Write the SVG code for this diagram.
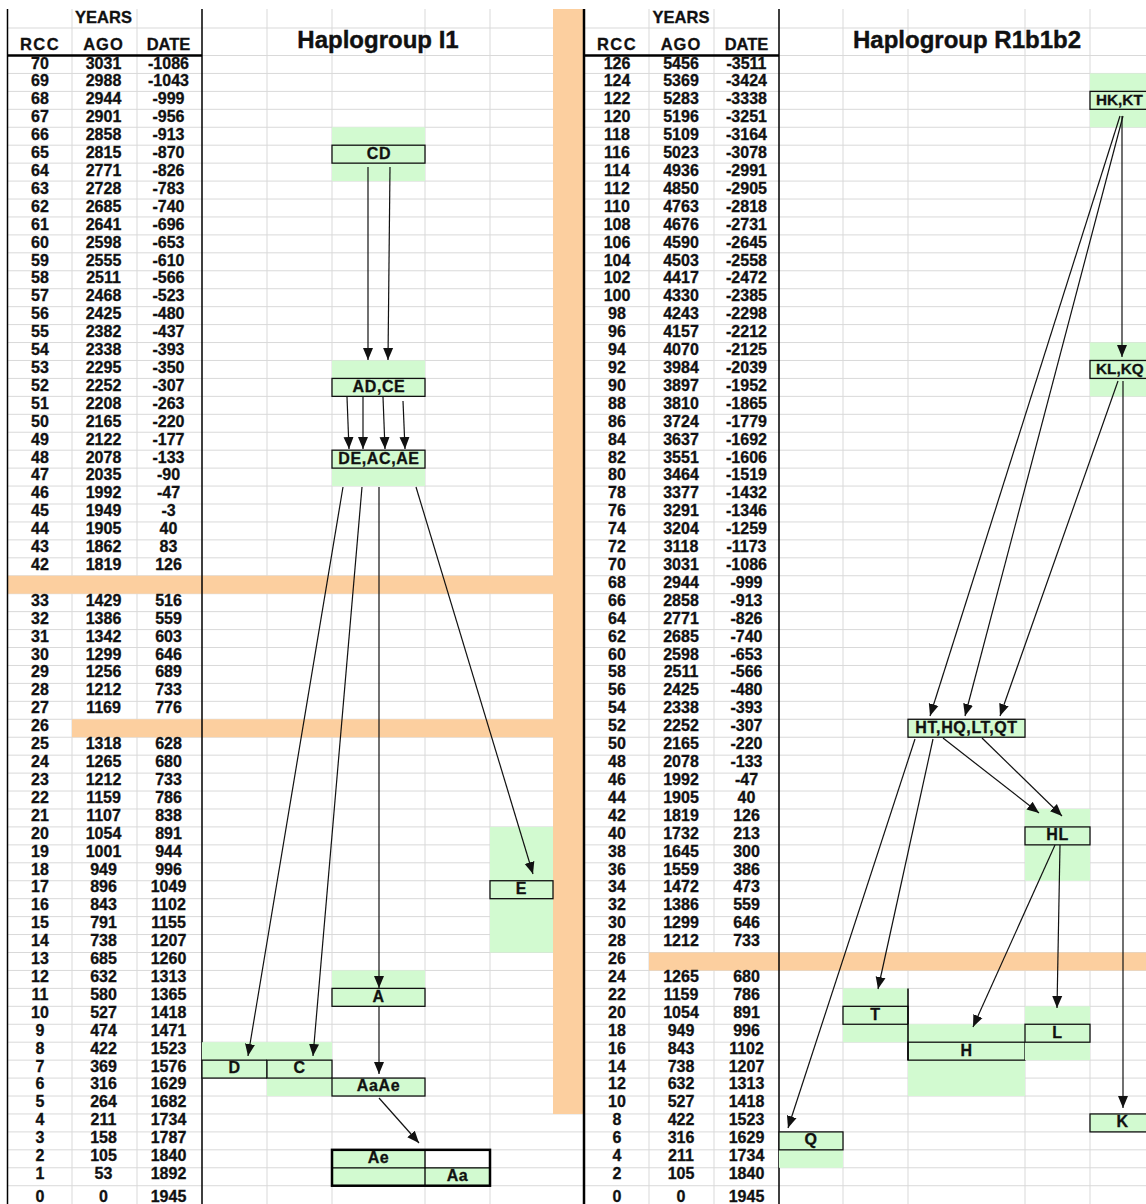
<svg xmlns="http://www.w3.org/2000/svg" width="1146" height="1204" viewBox="0 0 1146 1204">
<style>
.grid{stroke:#d9d9d9;stroke-width:1;fill:none}
.or{fill:#fccf9f}
.gr{fill:#d2fad0}
.bd{stroke:#000;fill:none}
.box{stroke:#111;stroke-width:1.3;fill:#d2fad0}
.n{font-family:"Liberation Sans",Arial,Helvetica,sans-serif;font-weight:bold;font-size:16px;fill:#111;stroke:#111;stroke-width:0.3;text-anchor:middle}
.hd{font-family:"Liberation Sans",Arial,Helvetica,sans-serif;font-weight:bold;font-size:16.5px;fill:#111;stroke:#111;stroke-width:0.3;text-anchor:middle}
.ti{font-family:"Liberation Sans",Arial,Helvetica,sans-serif;font-weight:bold;font-size:24px;fill:#111;stroke:#111;stroke-width:0.4;text-anchor:middle}
.lb{font-family:"Liberation Sans",Arial,Helvetica,sans-serif;font-weight:bold;font-size:16px;fill:#111;stroke:#111;stroke-width:0.3;text-anchor:middle;letter-spacing:0.6px}
.lbs{font-family:"Liberation Sans",Arial,Helvetica,sans-serif;font-weight:bold;font-size:15.3px;fill:#111;stroke:#111;stroke-width:0.3}
.cn{stroke:#111;stroke-width:1.2;fill:none;marker-end:url(#ah)}
</style>
<defs>
<marker id="ah" markerUnits="userSpaceOnUse" markerWidth="14" markerHeight="12" refX="12" refY="6" orient="auto"><path d="M0,1 L12,6 L0,11 z" fill="#111"/></marker>
</defs>
<rect x="0" y="0" width="1146" height="1204" fill="#fff"/>
<g id="grid">
<path class="grid" d="M7,28 H1146 M7,73.44 H1146 M7,91.38 H1146 M7,109.32 H1146 M7,127.26 H1146 M7,145.2 H1146 M7,163.14 H1146 M7,181.08 H1146 M7,199.02 H1146 M7,216.96 H1146 M7,234.9 H1146 M7,252.84 H1146 M7,270.78 H1146 M7,288.72 H1146 M7,306.66 H1146 M7,324.6 H1146 M7,342.54 H1146 M7,360.48 H1146 M7,378.42 H1146 M7,396.36 H1146 M7,414.3 H1146 M7,432.24 H1146 M7,450.18 H1146 M7,468.12 H1146 M7,486.06 H1146 M7,504 H1146 M7,521.94 H1146 M7,539.88 H1146 M7,557.82 H1146 M7,575.76 H1146 M7,593.7 H1146 M7,611.64 H1146 M7,629.58 H1146 M7,647.52 H1146 M7,665.46 H1146 M7,683.4 H1146 M7,701.34 H1146 M7,719.28 H1146 M7,737.22 H1146 M7,755.16 H1146 M7,773.1 H1146 M7,791.04 H1146 M7,808.98 H1146 M7,826.92 H1146 M7,844.86 H1146 M7,862.8 H1146 M7,880.74 H1146 M7,898.68 H1146 M7,916.62 H1146 M7,934.56 H1146 M7,952.5 H1146 M7,970.44 H1146 M7,988.38 H1146 M7,1006.32 H1146 M7,1024.26 H1146 M7,1042.2 H1146 M7,1060.14 H1146 M7,1078.08 H1146 M7,1096.02 H1146 M7,1113.96 H1146 M7,1131.9 H1146 M7,1149.84 H1146 M7,1167.78 H1146 M7,1185.72 H1146 M202,55.5 H583 M779,55.5 H1146"/>
<path class="grid" d="M72,9 V1204 M137,9 V1204 M267,9 V1204 M332,9 V1204 M425,9 V1204 M490,9 V1204 M649,9 V1204 M714,9 V1204 M843,9 V1204 M908,9 V1204 M1025,9 V1204 M1090,9 V1204"/>
</g>
<g id="bands">
<rect class="or" x="553" y="9" width="30" height="1105"/>
<rect class="or" x="7" y="575.76" width="546" height="17.94"/>
<rect class="or" x="72" y="719.28" width="481" height="17.94"/>
<rect class="or" x="649" y="952.5" width="497" height="17.94"/>
</g>
<g id="borders">
<path class="bd" stroke-width="1.5" d="M7.5,9 V1204 M202,9 V1204 M779,9 V1204"/>
<path class="bd" stroke-width="2.5" d="M584,9 V1204 M7,55.5 H202 M583,55.5 H779"/>
</g>
<g id="titles">
<text class="ti" x="378" y="48">Haplogroup I1</text>
<text class="ti" x="967" y="48">Haplogroup R1b1b2</text>
</g>
<g id="table-left">
<text class="hd" x="103.5" y="23">YEARS</text>
<text class="hd" y="50"><tspan x="40" letter-spacing="1.5">RCC</tspan><tspan x="103.5" letter-spacing="1">AGO</tspan><tspan x="168.5">DATE</tspan></text>
<text class="n" y="68.5"><tspan x="40">70</tspan><tspan x="103.5">3031</tspan><tspan x="168.5">-1086</tspan></text>
<text class="n" y="86.4"><tspan x="40">69</tspan><tspan x="103.5">2988</tspan><tspan x="168.5">-1043</tspan></text>
<text class="n" y="104.3"><tspan x="40">68</tspan><tspan x="103.5">2944</tspan><tspan x="168.5">-999</tspan></text>
<text class="n" y="122.2"><tspan x="40">67</tspan><tspan x="103.5">2901</tspan><tspan x="168.5">-956</tspan></text>
<text class="n" y="140.1"><tspan x="40">66</tspan><tspan x="103.5">2858</tspan><tspan x="168.5">-913</tspan></text>
<text class="n" y="158.1"><tspan x="40">65</tspan><tspan x="103.5">2815</tspan><tspan x="168.5">-870</tspan></text>
<text class="n" y="176"><tspan x="40">64</tspan><tspan x="103.5">2771</tspan><tspan x="168.5">-826</tspan></text>
<text class="n" y="193.9"><tspan x="40">63</tspan><tspan x="103.5">2728</tspan><tspan x="168.5">-783</tspan></text>
<text class="n" y="211.8"><tspan x="40">62</tspan><tspan x="103.5">2685</tspan><tspan x="168.5">-740</tspan></text>
<text class="n" y="229.7"><tspan x="40">61</tspan><tspan x="103.5">2641</tspan><tspan x="168.5">-696</tspan></text>
<text class="n" y="247.6"><tspan x="40">60</tspan><tspan x="103.5">2598</tspan><tspan x="168.5">-653</tspan></text>
<text class="n" y="265.5"><tspan x="40">59</tspan><tspan x="103.5">2555</tspan><tspan x="168.5">-610</tspan></text>
<text class="n" y="283.4"><tspan x="40">58</tspan><tspan x="103.5">2511</tspan><tspan x="168.5">-566</tspan></text>
<text class="n" y="301.3"><tspan x="40">57</tspan><tspan x="103.5">2468</tspan><tspan x="168.5">-523</tspan></text>
<text class="n" y="319.2"><tspan x="40">56</tspan><tspan x="103.5">2425</tspan><tspan x="168.5">-480</tspan></text>
<text class="n" y="337.2"><tspan x="40">55</tspan><tspan x="103.5">2382</tspan><tspan x="168.5">-437</tspan></text>
<text class="n" y="355.1"><tspan x="40">54</tspan><tspan x="103.5">2338</tspan><tspan x="168.5">-393</tspan></text>
<text class="n" y="373"><tspan x="40">53</tspan><tspan x="103.5">2295</tspan><tspan x="168.5">-350</tspan></text>
<text class="n" y="390.9"><tspan x="40">52</tspan><tspan x="103.5">2252</tspan><tspan x="168.5">-307</tspan></text>
<text class="n" y="408.8"><tspan x="40">51</tspan><tspan x="103.5">2208</tspan><tspan x="168.5">-263</tspan></text>
<text class="n" y="426.7"><tspan x="40">50</tspan><tspan x="103.5">2165</tspan><tspan x="168.5">-220</tspan></text>
<text class="n" y="444.6"><tspan x="40">49</tspan><tspan x="103.5">2122</tspan><tspan x="168.5">-177</tspan></text>
<text class="n" y="462.5"><tspan x="40">48</tspan><tspan x="103.5">2078</tspan><tspan x="168.5">-133</tspan></text>
<text class="n" y="480.4"><tspan x="40">47</tspan><tspan x="103.5">2035</tspan><tspan x="168.5">-90</tspan></text>
<text class="n" y="498.3"><tspan x="40">46</tspan><tspan x="103.5">1992</tspan><tspan x="168.5">-47</tspan></text>
<text class="n" y="516.3"><tspan x="40">45</tspan><tspan x="103.5">1949</tspan><tspan x="168.5">-3</tspan></text>
<text class="n" y="534.2"><tspan x="40">44</tspan><tspan x="103.5">1905</tspan><tspan x="168.5">40</tspan></text>
<text class="n" y="552.1"><tspan x="40">43</tspan><tspan x="103.5">1862</tspan><tspan x="168.5">83</tspan></text>
<text class="n" y="570"><tspan x="40">42</tspan><tspan x="103.5">1819</tspan><tspan x="168.5">126</tspan></text>
<text class="n" y="605.8"><tspan x="40">33</tspan><tspan x="103.5">1429</tspan><tspan x="168.5">516</tspan></text>
<text class="n" y="623.7"><tspan x="40">32</tspan><tspan x="103.5">1386</tspan><tspan x="168.5">559</tspan></text>
<text class="n" y="641.6"><tspan x="40">31</tspan><tspan x="103.5">1342</tspan><tspan x="168.5">603</tspan></text>
<text class="n" y="659.5"><tspan x="40">30</tspan><tspan x="103.5">1299</tspan><tspan x="168.5">646</tspan></text>
<text class="n" y="677.4"><tspan x="40">29</tspan><tspan x="103.5">1256</tspan><tspan x="168.5">689</tspan></text>
<text class="n" y="695.4"><tspan x="40">28</tspan><tspan x="103.5">1212</tspan><tspan x="168.5">733</tspan></text>
<text class="n" y="713.3"><tspan x="40">27</tspan><tspan x="103.5">1169</tspan><tspan x="168.5">776</tspan></text>
<text class="n" y="731.2"><tspan x="40">26</tspan></text>
<text class="n" y="749.1"><tspan x="40">25</tspan><tspan x="103.5">1318</tspan><tspan x="168.5">628</tspan></text>
<text class="n" y="767"><tspan x="40">24</tspan><tspan x="103.5">1265</tspan><tspan x="168.5">680</tspan></text>
<text class="n" y="784.9"><tspan x="40">23</tspan><tspan x="103.5">1212</tspan><tspan x="168.5">733</tspan></text>
<text class="n" y="802.8"><tspan x="40">22</tspan><tspan x="103.5">1159</tspan><tspan x="168.5">786</tspan></text>
<text class="n" y="820.7"><tspan x="40">21</tspan><tspan x="103.5">1107</tspan><tspan x="168.5">838</tspan></text>
<text class="n" y="838.6"><tspan x="40">20</tspan><tspan x="103.5">1054</tspan><tspan x="168.5">891</tspan></text>
<text class="n" y="856.5"><tspan x="40">19</tspan><tspan x="103.5">1001</tspan><tspan x="168.5">944</tspan></text>
<text class="n" y="874.5"><tspan x="40">18</tspan><tspan x="103.5">949</tspan><tspan x="168.5">996</tspan></text>
<text class="n" y="892.4"><tspan x="40">17</tspan><tspan x="103.5">896</tspan><tspan x="168.5">1049</tspan></text>
<text class="n" y="910.3"><tspan x="40">16</tspan><tspan x="103.5">843</tspan><tspan x="168.5">1102</tspan></text>
<text class="n" y="928.2"><tspan x="40">15</tspan><tspan x="103.5">791</tspan><tspan x="168.5">1155</tspan></text>
<text class="n" y="946.1"><tspan x="40">14</tspan><tspan x="103.5">738</tspan><tspan x="168.5">1207</tspan></text>
<text class="n" y="964"><tspan x="40">13</tspan><tspan x="103.5">685</tspan><tspan x="168.5">1260</tspan></text>
<text class="n" y="981.9"><tspan x="40">12</tspan><tspan x="103.5">632</tspan><tspan x="168.5">1313</tspan></text>
<text class="n" y="999.8"><tspan x="40">11</tspan><tspan x="103.5">580</tspan><tspan x="168.5">1365</tspan></text>
<text class="n" y="1017.7"><tspan x="40">10</tspan><tspan x="103.5">527</tspan><tspan x="168.5">1418</tspan></text>
<text class="n" y="1035.6"><tspan x="40">9</tspan><tspan x="103.5">474</tspan><tspan x="168.5">1471</tspan></text>
<text class="n" y="1053.6"><tspan x="40">8</tspan><tspan x="103.5">422</tspan><tspan x="168.5">1523</tspan></text>
<text class="n" y="1071.5"><tspan x="40">7</tspan><tspan x="103.5">369</tspan><tspan x="168.5">1576</tspan></text>
<text class="n" y="1089.4"><tspan x="40">6</tspan><tspan x="103.5">316</tspan><tspan x="168.5">1629</tspan></text>
<text class="n" y="1107.3"><tspan x="40">5</tspan><tspan x="103.5">264</tspan><tspan x="168.5">1682</tspan></text>
<text class="n" y="1125.2"><tspan x="40">4</tspan><tspan x="103.5">211</tspan><tspan x="168.5">1734</tspan></text>
<text class="n" y="1143.1"><tspan x="40">3</tspan><tspan x="103.5">158</tspan><tspan x="168.5">1787</tspan></text>
<text class="n" y="1161"><tspan x="40">2</tspan><tspan x="103.5">105</tspan><tspan x="168.5">1840</tspan></text>
<text class="n" y="1178.9"><tspan x="40">1</tspan><tspan x="103.5">53</tspan><tspan x="168.5">1892</tspan></text>
<text class="n" y="1202"><tspan x="40">0</tspan><tspan x="103.5">0</tspan><tspan x="168.5">1945</tspan></text>
</g>
<g id="table-right">
<text class="hd" x="681" y="23">YEARS</text>
<text class="hd" y="50"><tspan x="617" letter-spacing="1.5">RCC</tspan><tspan x="681" letter-spacing="1">AGO</tspan><tspan x="746.5">DATE</tspan></text>
<text class="n" y="68.5"><tspan x="617">126</tspan><tspan x="681">5456</tspan><tspan x="746.5">-3511</tspan></text>
<text class="n" y="86.4"><tspan x="617">124</tspan><tspan x="681">5369</tspan><tspan x="746.5">-3424</tspan></text>
<text class="n" y="104.3"><tspan x="617">122</tspan><tspan x="681">5283</tspan><tspan x="746.5">-3338</tspan></text>
<text class="n" y="122.2"><tspan x="617">120</tspan><tspan x="681">5196</tspan><tspan x="746.5">-3251</tspan></text>
<text class="n" y="140.1"><tspan x="617">118</tspan><tspan x="681">5109</tspan><tspan x="746.5">-3164</tspan></text>
<text class="n" y="158.1"><tspan x="617">116</tspan><tspan x="681">5023</tspan><tspan x="746.5">-3078</tspan></text>
<text class="n" y="176"><tspan x="617">114</tspan><tspan x="681">4936</tspan><tspan x="746.5">-2991</tspan></text>
<text class="n" y="193.9"><tspan x="617">112</tspan><tspan x="681">4850</tspan><tspan x="746.5">-2905</tspan></text>
<text class="n" y="211.8"><tspan x="617">110</tspan><tspan x="681">4763</tspan><tspan x="746.5">-2818</tspan></text>
<text class="n" y="229.7"><tspan x="617">108</tspan><tspan x="681">4676</tspan><tspan x="746.5">-2731</tspan></text>
<text class="n" y="247.6"><tspan x="617">106</tspan><tspan x="681">4590</tspan><tspan x="746.5">-2645</tspan></text>
<text class="n" y="265.5"><tspan x="617">104</tspan><tspan x="681">4503</tspan><tspan x="746.5">-2558</tspan></text>
<text class="n" y="283.4"><tspan x="617">102</tspan><tspan x="681">4417</tspan><tspan x="746.5">-2472</tspan></text>
<text class="n" y="301.3"><tspan x="617">100</tspan><tspan x="681">4330</tspan><tspan x="746.5">-2385</tspan></text>
<text class="n" y="319.2"><tspan x="617">98</tspan><tspan x="681">4243</tspan><tspan x="746.5">-2298</tspan></text>
<text class="n" y="337.2"><tspan x="617">96</tspan><tspan x="681">4157</tspan><tspan x="746.5">-2212</tspan></text>
<text class="n" y="355.1"><tspan x="617">94</tspan><tspan x="681">4070</tspan><tspan x="746.5">-2125</tspan></text>
<text class="n" y="373"><tspan x="617">92</tspan><tspan x="681">3984</tspan><tspan x="746.5">-2039</tspan></text>
<text class="n" y="390.9"><tspan x="617">90</tspan><tspan x="681">3897</tspan><tspan x="746.5">-1952</tspan></text>
<text class="n" y="408.8"><tspan x="617">88</tspan><tspan x="681">3810</tspan><tspan x="746.5">-1865</tspan></text>
<text class="n" y="426.7"><tspan x="617">86</tspan><tspan x="681">3724</tspan><tspan x="746.5">-1779</tspan></text>
<text class="n" y="444.6"><tspan x="617">84</tspan><tspan x="681">3637</tspan><tspan x="746.5">-1692</tspan></text>
<text class="n" y="462.5"><tspan x="617">82</tspan><tspan x="681">3551</tspan><tspan x="746.5">-1606</tspan></text>
<text class="n" y="480.4"><tspan x="617">80</tspan><tspan x="681">3464</tspan><tspan x="746.5">-1519</tspan></text>
<text class="n" y="498.3"><tspan x="617">78</tspan><tspan x="681">3377</tspan><tspan x="746.5">-1432</tspan></text>
<text class="n" y="516.3"><tspan x="617">76</tspan><tspan x="681">3291</tspan><tspan x="746.5">-1346</tspan></text>
<text class="n" y="534.2"><tspan x="617">74</tspan><tspan x="681">3204</tspan><tspan x="746.5">-1259</tspan></text>
<text class="n" y="552.1"><tspan x="617">72</tspan><tspan x="681">3118</tspan><tspan x="746.5">-1173</tspan></text>
<text class="n" y="570"><tspan x="617">70</tspan><tspan x="681">3031</tspan><tspan x="746.5">-1086</tspan></text>
<text class="n" y="587.9"><tspan x="617">68</tspan><tspan x="681">2944</tspan><tspan x="746.5">-999</tspan></text>
<text class="n" y="605.8"><tspan x="617">66</tspan><tspan x="681">2858</tspan><tspan x="746.5">-913</tspan></text>
<text class="n" y="623.7"><tspan x="617">64</tspan><tspan x="681">2771</tspan><tspan x="746.5">-826</tspan></text>
<text class="n" y="641.6"><tspan x="617">62</tspan><tspan x="681">2685</tspan><tspan x="746.5">-740</tspan></text>
<text class="n" y="659.5"><tspan x="617">60</tspan><tspan x="681">2598</tspan><tspan x="746.5">-653</tspan></text>
<text class="n" y="677.4"><tspan x="617">58</tspan><tspan x="681">2511</tspan><tspan x="746.5">-566</tspan></text>
<text class="n" y="695.4"><tspan x="617">56</tspan><tspan x="681">2425</tspan><tspan x="746.5">-480</tspan></text>
<text class="n" y="713.3"><tspan x="617">54</tspan><tspan x="681">2338</tspan><tspan x="746.5">-393</tspan></text>
<text class="n" y="731.2"><tspan x="617">52</tspan><tspan x="681">2252</tspan><tspan x="746.5">-307</tspan></text>
<text class="n" y="749.1"><tspan x="617">50</tspan><tspan x="681">2165</tspan><tspan x="746.5">-220</tspan></text>
<text class="n" y="767"><tspan x="617">48</tspan><tspan x="681">2078</tspan><tspan x="746.5">-133</tspan></text>
<text class="n" y="784.9"><tspan x="617">46</tspan><tspan x="681">1992</tspan><tspan x="746.5">-47</tspan></text>
<text class="n" y="802.8"><tspan x="617">44</tspan><tspan x="681">1905</tspan><tspan x="746.5">40</tspan></text>
<text class="n" y="820.7"><tspan x="617">42</tspan><tspan x="681">1819</tspan><tspan x="746.5">126</tspan></text>
<text class="n" y="838.6"><tspan x="617">40</tspan><tspan x="681">1732</tspan><tspan x="746.5">213</tspan></text>
<text class="n" y="856.5"><tspan x="617">38</tspan><tspan x="681">1645</tspan><tspan x="746.5">300</tspan></text>
<text class="n" y="874.5"><tspan x="617">36</tspan><tspan x="681">1559</tspan><tspan x="746.5">386</tspan></text>
<text class="n" y="892.4"><tspan x="617">34</tspan><tspan x="681">1472</tspan><tspan x="746.5">473</tspan></text>
<text class="n" y="910.3"><tspan x="617">32</tspan><tspan x="681">1386</tspan><tspan x="746.5">559</tspan></text>
<text class="n" y="928.2"><tspan x="617">30</tspan><tspan x="681">1299</tspan><tspan x="746.5">646</tspan></text>
<text class="n" y="946.1"><tspan x="617">28</tspan><tspan x="681">1212</tspan><tspan x="746.5">733</tspan></text>
<text class="n" y="964"><tspan x="617">26</tspan></text>
<text class="n" y="981.9"><tspan x="617">24</tspan><tspan x="681">1265</tspan><tspan x="746.5">680</tspan></text>
<text class="n" y="999.8"><tspan x="617">22</tspan><tspan x="681">1159</tspan><tspan x="746.5">786</tspan></text>
<text class="n" y="1017.7"><tspan x="617">20</tspan><tspan x="681">1054</tspan><tspan x="746.5">891</tspan></text>
<text class="n" y="1035.6"><tspan x="617">18</tspan><tspan x="681">949</tspan><tspan x="746.5">996</tspan></text>
<text class="n" y="1053.6"><tspan x="617">16</tspan><tspan x="681">843</tspan><tspan x="746.5">1102</tspan></text>
<text class="n" y="1071.5"><tspan x="617">14</tspan><tspan x="681">738</tspan><tspan x="746.5">1207</tspan></text>
<text class="n" y="1089.4"><tspan x="617">12</tspan><tspan x="681">632</tspan><tspan x="746.5">1313</tspan></text>
<text class="n" y="1107.3"><tspan x="617">10</tspan><tspan x="681">527</tspan><tspan x="746.5">1418</tspan></text>
<text class="n" y="1125.2"><tspan x="617">8</tspan><tspan x="681">422</tspan><tspan x="746.5">1523</tspan></text>
<text class="n" y="1143.1"><tspan x="617">6</tspan><tspan x="681">316</tspan><tspan x="746.5">1629</tspan></text>
<text class="n" y="1161"><tspan x="617">4</tspan><tspan x="681">211</tspan><tspan x="746.5">1734</tspan></text>
<text class="n" y="1178.9"><tspan x="617">2</tspan><tspan x="681">105</tspan><tspan x="746.5">1840</tspan></text>
<text class="n" y="1202"><tspan x="617">0</tspan><tspan x="681">0</tspan><tspan x="746.5">1945</tspan></text>
</g>
<g id="node-CD">
<rect class="gr" x="332" y="127.26" width="93" height="53.82"/>
<rect class="box" x="332" y="145.2" width="93" height="17.94"/>
<text class="lb" x="379" y="158.5" letter-spacing="2.5">CD</text>
</g>
<g id="node-ADCE">
<rect class="gr" x="332" y="360.48" width="93" height="17.94"/>
<rect class="box" x="332" y="378.42" width="93" height="17.94"/>
<text class="lb" x="379" y="391.7">AD,CE</text>
</g>
<g id="node-DEACAE">
<rect class="gr" x="332" y="468.12" width="93" height="17.94"/>
<rect class="box" x="332" y="450.18" width="93" height="17.94"/>
<text class="lb" x="379" y="463.5">DE,AC,AE</text>
</g>
<g id="node-E">
<rect class="gr" x="490" y="826.92" width="63" height="125.58"/>
<rect class="box" x="490" y="880.74" width="63" height="17.94"/>
<text class="lb" x="521.5" y="894">E</text>
</g>
<g id="node-A">
<rect class="gr" x="332" y="970.44" width="93" height="17.94"/>
<rect class="box" x="332" y="988.38" width="93" height="17.94"/>
<text class="lb" x="378.5" y="1001.7">A</text>
</g>
<g id="node-D">
<rect class="gr" x="202" y="1042.2" width="65" height="17.94"/>
<rect class="box" x="202" y="1060.14" width="65" height="17.94"/>
<text class="lb" x="234.5" y="1073.4">D</text>
</g>
<g id="node-C">
<rect class="gr" x="267" y="1042.2" width="65" height="17.94"/>
<rect class="gr" x="267" y="1078.08" width="65" height="17.94"/>
<rect class="box" x="267" y="1060.14" width="65" height="17.94"/>
<text class="lb" x="299.5" y="1073.4">C</text>
</g>
<g id="node-AaAe">
<rect class="box" x="332" y="1078.08" width="93" height="17.94"/>
<text class="lb" x="378.5" y="1091.4">AaAe</text>
</g>
<g id="node-AeAa">
<rect class="gr" x="332" y="1149.84" width="93" height="35.88"/>
<rect class="gr" x="425" y="1167.78" width="65" height="17.94"/>
<path class="bd" stroke-width="1.3" d="M332,1167.78 H490 M425,1149.84 V1185.72"/>
<rect class="bd" stroke-width="2.5" x="332" y="1149.84" width="158" height="35.88"/>
<text class="lb" x="378.5" y="1163">Ae</text>
<text class="lb" x="457.5" y="1181">Aa</text>
</g>
<g id="node-HKKT">
<rect class="gr" x="1090" y="73.44" width="60" height="53.82"/>
<rect class="box" x="1090" y="91.38" width="70" height="17.94"/>
<text class="lbs" x="1096" y="104.7">HK,KT</text>
</g>
<g id="node-KLKQ">
<rect class="gr" x="1090" y="342.54" width="60" height="53.82"/>
<rect class="box" x="1090" y="360.48" width="70" height="17.94"/>
<text class="lbs" x="1096" y="373.8">KL,KQ</text>
</g>
<g id="node-HTHQLTQT">
<rect class="box" x="908" y="719.28" width="117" height="17.94"/>
<text class="lb" x="966.5" y="732.6" letter-spacing="0">HT,HQ,LT,QT</text>
</g>
<g id="node-HL">
<rect class="gr" x="1025" y="808.98" width="65" height="71.76"/>
<rect class="box" x="1025" y="826.92" width="65" height="17.94"/>
<text class="lb" x="1057.5" y="840.2">HL</text>
</g>
<g id="node-T">
<rect class="gr" x="843" y="988.38" width="65" height="53.82"/>
<rect class="box" x="843" y="1006.32" width="65" height="17.94"/>
<text class="lb" x="875.5" y="1019.6">T</text>
</g>
<g id="node-H">
<rect class="gr" x="908" y="1024.26" width="117" height="71.76"/>
<rect class="box" x="908" y="1042.2" width="117" height="17.94"/>
<path class="bd" stroke-width="1.5" d="M908,988.38 V1060.14"/>
<text class="lb" x="966.5" y="1055.5">H</text>
</g>
<g id="node-L">
<rect class="gr" x="1025" y="1006.32" width="65" height="53.82"/>
<rect class="box" x="1025" y="1024.26" width="65" height="17.94"/>
<text class="lb" x="1057.5" y="1037.6">L</text>
</g>
<g id="node-K">
<rect class="box" x="1090" y="1113.96" width="70" height="17.94"/>
<text class="lb" x="1122.5" y="1127.3">K</text>
</g>
<g id="node-Q">
<rect class="gr" x="779" y="1149.84" width="64" height="17.94"/>
<rect class="box" x="779" y="1131.9" width="64" height="17.94"/>
<text class="lb" x="811" y="1145.2">Q</text>
</g>
<g id="connectors">
<path class="cn" d="M368,167 L368,360"/>
<path class="cn" d="M390,167 L388,360"/>
<path class="cn" d="M347,397 L349,449"/>
<path class="cn" d="M363,397 L363,449"/>
<path class="cn" d="M383,397 L385,449"/>
<path class="cn" d="M403,401 L405,449"/>
<path class="cn" d="M343,487 L248,1056"/>
<path class="cn" d="M362,487 L313,1056"/>
<path class="cn" d="M379,487 L379,988"/>
<path class="cn" d="M416,487 L533,874"/>
<path class="cn" d="M379,1006 L379,1074"/>
<path class="cn" d="M379,1098 L419,1143"/>
<path class="cn" d="M1120,116 L930,716"/>
<path class="cn" d="M1123,116 L965,716"/>
<path class="cn" d="M1122,116 L1122,357"/>
<path class="cn" d="M1118,381 L1000,716"/>
<path class="cn" d="M1123,381 L1123,1108"/>
<path class="cn" d="M915,739 L788,1128"/>
<path class="cn" d="M933,739 L878,989"/>
<path class="cn" d="M943,738 L1039,813"/>
<path class="cn" d="M982,738 L1062,816"/>
<path class="cn" d="M1055,845 L973,1027"/>
<path class="cn" d="M1060,845 L1057,1008"/>
</g>
</svg>
